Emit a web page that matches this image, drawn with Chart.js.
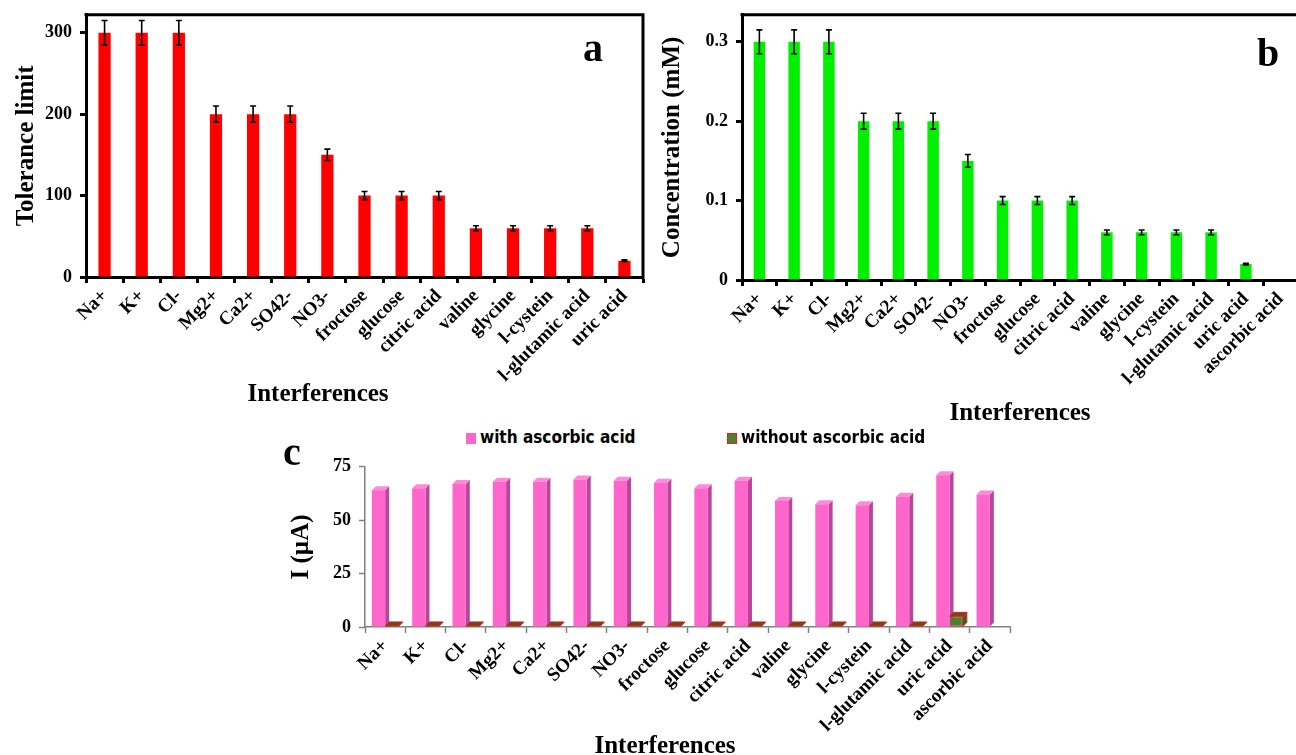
<!DOCTYPE html>
<html>
<head>
	<title>Interferences</title>
	<script src="https://cdn.jsdelivr.net/npm/chart.js"></script>
	<style>
		body {
			margin: 0px;
			width: 1296px;
			height: 755px;
			overflow: hidden;
			position: relative;
			background: #ffffff;
			font-family: 'Liberation Serif', 'Times New Roman', serif;
		}
		canvas {
			position: absolute;
		}
		.letter {
			position: absolute;
			font-weight: bold;
			font-size: 40px;
			line-height: 40px;
		}
		.xtitle {
			position: absolute;
			font-weight: bold;
			font-size: 25px;
			line-height: 28px;
			white-space: nowrap;
			transform: translateX(-50%);
		}
		.leg {
			position: absolute;
			top: 427px;
			font-family: 'Liberation Sans Narrow', 'DejaVu Sans Condensed', sans-serif;
			font-weight: bold;
			font-size: 17px;
			line-height: 20px;
			white-space: nowrap;
		}
		.leg span {
			display: inline-block;
			width: 10px;
			height: 11px;
			margin-right: 4px;
			vertical-align: -1px;
		}
	</style>
</head>
<body>
	<canvas id="chartA" width="648" height="414" style="left:0px;top:-4px"></canvas>
	<canvas id="chartB" width="645" height="434" style="left:655px;top:-4px"></canvas>
	<canvas id="chartC" width="830" height="307" style="left:280px;top:448px"></canvas>

	<div class="letter" style="left:583px;top:28px">a</div>
	<div class="letter" style="left:1257px;top:33px">b</div>
	<div class="letter" style="left:283px;top:432px">c</div>

	<div class="xtitle" style="left:318px;top:379px">Interferences</div>
	<div class="xtitle" style="left:1020px;top:398px">Interferences</div>
	<div class="xtitle" style="left:665px;top:731px">Interferences</div>

	<div class="leg" style="left:466px"><span style="background:#ff66cc"></span>with ascorbic acid</div>
	<div class="leg" style="left:727px"><span style="background:#4f7f2f;border:1px solid #e02020;width:8px;height:9px"></span>without ascorbic acid</div>

	<script>
		// panel a / b categories
		var labelsAB = ['Na+', 'K+', 'Cl-', 'Mg2+', 'Ca2+', 'SO42-', 'NO3-', 'froctose', 'glucose',
			'citric acid', 'valine', 'glycine', 'l-cystein', 'l-glutamic acid', 'uric acid'];
		var labelsBC = labelsAB.concat(['ascorbic acid']);

		// a: tolerance limit
		var toleranceLimit = [300, 300, 300, 200, 200, 200, 150, 100, 100, 100, 60, 60, 60, 60, 20];
		var toleranceErr = [15, 15, 15, 10, 10, 10, 7, 5, 5, 5, 3, 3, 3, 3, 1];

		// b: concentration (mM)
		var concentration = [0.3, 0.3, 0.3, 0.2, 0.2, 0.2, 0.15, 0.1, 0.1, 0.1, 0.06, 0.06, 0.06, 0.06, 0.02, null];
		var concentrationErr = [0.015, 0.015, 0.015, 0.01, 0.01, 0.01, 0.008, 0.005, 0.005, 0.005, 0.003, 0.003, 0.003, 0.003, 0.001, 0];

		// c: current I (uA)
		var withAscorbic = [64, 65, 67, 68, 68, 69, 68.5, 67.5, 65, 68.5, 59, 57.5, 57, 61, 71, 62];
		var withoutAscorbic = [0.5, 0.5, 0.5, 0.5, 0.5, 0.5, 0.5, 0.5, 0.5, 0.5, 0.5, 0.5, 0.5, 0.5, 5, null];

		var tickA = [0, 100, 200, 300];
		var tickB = [0, 0.1, 0.2, 0.3];
		var tickC = [0, 25, 50, 75];

		var serif = 'Liberation Serif';
		function fnt(size) { return { family: serif, size: size, weight: 'bold' }; }

		var errorBars = {
			id: 'errorBars',
			afterDatasetsDraw: function(chart, args, opts) {
				var ctx = chart.ctx;
				var ys = chart.scales.y;
				var vals = chart.data.datasets[0].data;
				var meta = chart.getDatasetMeta(0);
				ctx.save();
				ctx.strokeStyle = '#000';
				ctx.lineWidth = 1.6;
				meta.data.forEach(function(bar, i) {
					if (vals[i] == null || !opts.errors[i]) return;
					var t = ys.getPixelForValue(vals[i] + opts.errors[i]);
					var b = ys.getPixelForValue(vals[i] - opts.errors[i]);
					ctx.beginPath();
					ctx.moveTo(bar.x, t); ctx.lineTo(bar.x, b);
					ctx.moveTo(bar.x - 3, t); ctx.lineTo(bar.x + 3, t);
					ctx.moveTo(bar.x - 3, b); ctx.lineTo(bar.x + 3, b);
					ctx.stroke();
				});
				ctx.restore();
			}
		};

		var frame = {
			id: 'frame',
			afterDraw: function(chart) {
				var a = chart.chartArea, ctx = chart.ctx;
				ctx.save();
				ctx.strokeStyle = '#000';
				ctx.lineWidth = 3;
				ctx.beginPath();
				ctx.moveTo(a.left - 1.5, a.top);
				ctx.lineTo(a.right, a.top);
				ctx.lineTo(a.right, a.bottom + 1.5);
				ctx.stroke();
				ctx.restore();
			}
		};

		// fake 3d faces for the bars of panel c
		function faces(chart, idx, st) {
			var ctx = chart.ctx, d = 4;
			var vals = chart.data.datasets[idx].data;
			ctx.save();
			chart.getDatasetMeta(idx).data.forEach(function(bar, i) {
				if (vals[i] == null) return;
				var l = bar.x - bar.width / 2, r = bar.x + bar.width / 2;
				var t = bar.y, b = bar.base;
				ctx.fillStyle = st.side;
				ctx.beginPath();
				ctx.moveTo(r, t); ctx.lineTo(r + d, t - d); ctx.lineTo(r + d, b - d); ctx.lineTo(r, b);
				ctx.closePath(); ctx.fill();
				if (st.stroke) { ctx.strokeStyle = st.stroke; ctx.lineWidth = 1; ctx.stroke(); }
				ctx.fillStyle = st.top;
				ctx.beginPath();
				ctx.moveTo(l, t); ctx.lineTo(l + d, t - d); ctx.lineTo(r + d, t - d); ctx.lineTo(r, t);
				ctx.closePath(); ctx.fill();
				if (st.stroke) { ctx.stroke(); }
			});
			ctx.restore();
		}

		var bars3d = {
			id: 'bars3d',
			beforeDatasetsDraw: function(chart, args, opts) { faces(chart, 0, opts.styles[0]); },
			afterDatasetsDraw: function(chart, args, opts) { faces(chart, 1, opts.styles[1]); }
		};

		function xAxis(h, color, width) {
			return {
				grid: { drawOnChartArea: false, drawTicks: true, tickLength: 6, tickColor: color, tickWidth: width, offset: true },
				border: { color: color, width: width },
				ticks: { color: '#000', font: fnt(19), autoSkip: false, minRotation: 45, maxRotation: 45, padding: 2 },
				afterFit: function(scale) { scale.height = h; }
			};
		}

		function yAxis(w, max, ticks, title, tpad, color, width) {
			return {
				min: 0,
				max: max,
				afterBuildTicks: function(scale) { scale.ticks = ticks.map(function(v) { return { value: v }; }); },
				grid: { drawOnChartArea: false, drawTicks: true, tickLength: 6, tickColor: color, tickWidth: width },
				border: { color: color, width: width },
				ticks: { color: '#000', font: fnt(18), padding: 8 },
				title: { display: true, text: title, color: '#000', font: fnt(25), padding: { top: tpad, bottom: 0 } },
				afterFit: function(scale) { scale.width = w; }
			};
		}

		var chartA = new Chart(document.getElementById('chartA').getContext('2d'), {
			type: 'bar',
			data: {
				labels: labelsAB,
				datasets: [{ data: toleranceLimit, backgroundColor: '#ff0000', barPercentage: 0.33, categoryPercentage: 1 }]
			},
			options: {
				responsive: false,
				animation: false,
				layout: { padding: { top: 10, right: 5, left: 0, bottom: 0 } },
				plugins: { legend: { display: false }, tooltip: { enabled: false }, errorBars: { errors: toleranceErr } },
				scales: {
					x: xAxis(133, '#000', 3),
					y: yAxis(86, 322, tickA, 'Tolerance limit', 12, '#000', 3)
				}
			},
			plugins: [errorBars, frame]
		});

		var chartB = new Chart(document.getElementById('chartB').getContext('2d'), {
			type: 'bar',
			data: {
				labels: labelsBC,
				datasets: [{ data: concentration, backgroundColor: '#00f000', barPercentage: 0.33, categoryPercentage: 1 }]
			},
			options: {
				responsive: false,
				animation: false,
				layout: { padding: { top: 12, right: 2, left: 0, bottom: 0 } },
				plugins: { legend: { display: false }, tooltip: { enabled: false }, errorBars: { errors: concentrationErr } },
				scales: {
					x: xAxis(150, '#000', 3),
					y: yAxis(87, 0.334, tickB, 'Concentration (mM)', 3, '#000', 3)
				}
			},
			plugins: [errorBars, frame]
		});

		var chartC = new Chart(document.getElementById('chartC').getContext('2d'), {
			type: 'bar',
			data: {
				labels: labelsBC,
				datasets: [
					{ label: 'with ascorbic acid', data: withAscorbic, backgroundColor: '#ff66cc',
						barPercentage: 1, categoryPercentage: 0.66 },
					{ label: 'without ascorbic acid', data: withoutAscorbic, backgroundColor: '#4f7f2f',
						borderColor: '#e02020', borderWidth: 1, borderSkipped: false, barPercentage: 1, categoryPercentage: 0.66 }
				]
			},
			options: {
				responsive: false,
				animation: false,
				layout: { padding: { top: 3, right: 100, left: 0, bottom: 0 } },
				plugins: {
					legend: { display: false },
					tooltip: { enabled: false },
					bars3d: { styles: [
						{ side: '#b8469c', top: '#ff8ad8' },
						{ side: '#3a6022', top: '#6a4a1a', stroke: '#e02020' }
					] }
				},
				scales: {
					x: xAxis(128, '#808080', 1.5),
					y: yAxis(85, 75, tickC, 'I (\u00b5A)', 7, '#808080', 1.5)
				}
			},
			plugins: [bars3d]
		});
	</script>
</body>
</html>
